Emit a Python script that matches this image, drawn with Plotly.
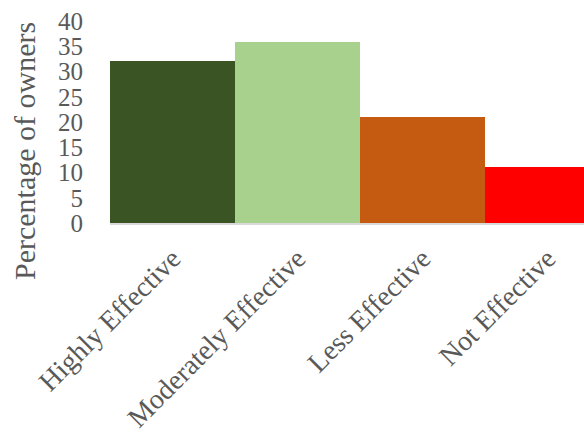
import plotly.graph_objects as go

categories = ["Highly Effective", "Moderately Effective", "Less Effective", "Not Effective"]
percent_owners = [32.1, 35.9, 21.0, 11.1]
bar_colors = ["#3a5423", "#a9d18e", "#c55a11", "#ff0000"]
y_ticks = [0, 5, 10, 15, 20, 25, 30, 35, 40]

W, H = 584, 439
L, R, T, B = 110, 0, 21, 216
plot_w = W - L - R

FONT = "Liberation Serif"
GREY = "#595959"

fig = go.Figure()

fig.add_trace(go.Bar(
    x=categories,
    y=percent_owners,
    marker=dict(color=bar_colors, line=dict(width=0)),
    width=1.0,
    hoverinfo="skip",
    showlegend=False,
))

# each category takes 125 px; the last bar runs past the right edge
bar_px = 125.0

fig.update_layout(
    width=W, height=H,
    margin=dict(l=L, r=R, t=T, b=B, pad=0),
    paper_bgcolor="white",
    plot_bgcolor="white",
    bargap=0,
    font=dict(family=FONT, color=GREY),
    xaxis=dict(
        type="category",
        range=[-0.5, -0.5 + plot_w / bar_px],
        tickangle=-45,
        tickfont=dict(family=FONT, size=28, color=GREY),
        showgrid=False,
        zeroline=False,
        showline=True,
        linecolor="#d9d9d9",
        linewidth=2,
        ticks="outside",
        ticklen=6,
        tickcolor="rgba(0,0,0,0)",
    ),
    yaxis=dict(
        range=[0, 40],
        tickvals=y_ticks,
        tickfont=dict(family=FONT, size=25, color=GREY),
        showgrid=False,
        zeroline=False,
        showline=False,
        ticks="",
        ticklabelstandoff=26,
    ),
    annotations=[dict(
        text="Percentage of owners",
        textangle=-90,
        xref="paper", yref="paper",
        x=(24 - L) / plot_w, y=(H - B - 151) / (H - T - B),
        xanchor="center", yanchor="middle",
        showarrow=False,
        font=dict(family=FONT, size=30, color=GREY),
    )],
)

fig.write_html("out.html")
